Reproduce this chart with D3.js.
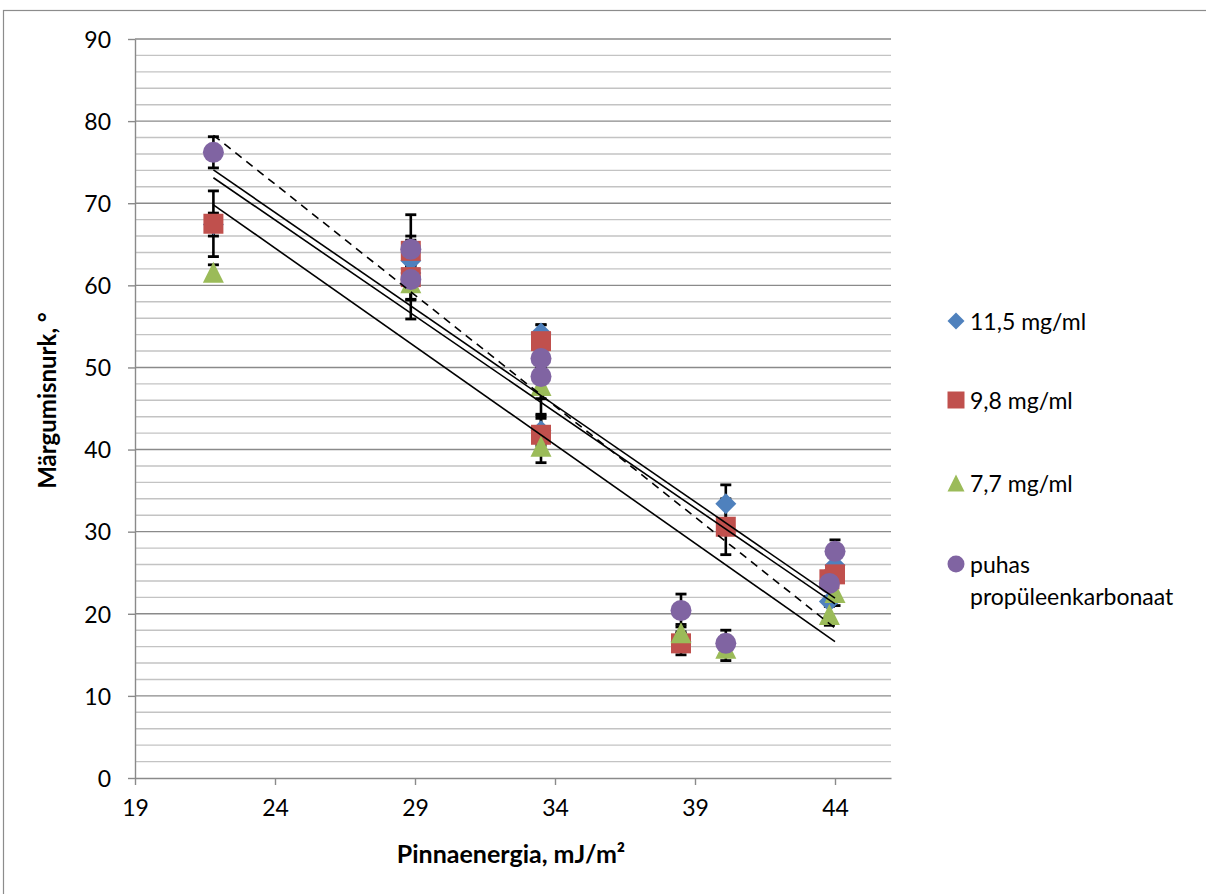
<!DOCTYPE html>
<html><head><meta charset="utf-8">
<script src="https://cdn.jsdelivr.net/npm/d3@7"></script>
<style>body{margin:0;background:#fff;} svg{display:block;font-family:Lato,"Open Sans",sans-serif;}</style>
</head><body>
<svg id="c" width="1206" height="894"></svg>
<script>
// ---- data ----
const xTicks = [19, 24, 29, 34, 39, 44];
const yTicks = [0, 10, 20, 30, 40, 50, 60, 70, 80, 90];
const yMinorTicks = d3.range(0, 91, 2);
const xTitle = "Pinnaenergia, mJ/m²";
const yTitle = "Märgumisnurk, °";
const seriesNames = ["11,5 mg/ml", "9,8 mg/ml", "7,7 mg/ml", "puhas propüleenkarbonaat"];

const surfaceEnergy = [21.8, 28.85, 28.85, 33.5, 33.5, 38.5, 40.1, 43.8, 44.0];

const blueY   = [67.4, 63.0, 61.5, 54.2, 42.3, 16.6, 33.4, 21.5, 25.9];
const blueErr = [1.4, 1.0, 1.0, 1.0, 1.8, 1.0, 2.3, 0.6, 1.2];
const redY    = [67.5, 64.2, 61.0, 53.2, 41.8, 16.4, 30.6, 24.2, 24.8];
const redErr  = [4.0, 1.8, 2.8, 2.0, 2.0, 1.4, 3.4, 1.0, 1.0];
const greenY  = [61.6, null, 60.3, 47.8, 40.4, 17.7, 15.8, 19.9, 22.6];
const greenErr= [0.9, null, 2.0, 3.5, 2.0, 1.0, 1.5, 1.3, 1.6];
const purpleY = [76.2, 64.4, 60.7, 51.1, 48.9, 20.4, 16.4, 23.7, 27.6];
const purpleErr=[1.9, 4.2, 4.8, 1.0, 2.7, 2.0, 1.6, 0.8, 1.4];

// linear trendlines y = a + b*x
const trendIntercept = [125.26, 124.07, 122.04, 137.2];
const trendSlope     = [-2.349, -2.338, -2.396, -2.703];
const trendDashed    = [false, false, false, true];

const colors = ["#4F81BD", "#C0504D", "#9BBB59", "#8064A2"];
const shapes = ["diamond", "square", "triangle", "circle"];

const seriesY = [blueY, redY, greenY, purpleY];
const seriesErr = [blueErr, redErr, greenErr, purpleErr];
const series = seriesNames.map((name, i) => ({
  name, color: colors[i], shape: shapes[i],
  a: trendIntercept[i], b: trendSlope[i], dashed: trendDashed[i],
  points: surfaceEnergy.map((x, j) => ({x, y: seriesY[i][j], e: seriesErr[i][j]}))
    .filter(p => p.y !== null)
}));

// ---- layout ----
const svg = d3.select("#c");
const L = 135, R = 891, T = 39, B = 778;
const x = d3.scaleLinear().domain([19, 46]).range([L, R]);
const y = d3.scaleLinear().domain([0, 90]).range([B, T]);

// chart border
svg.append("rect").attr("x", 3.5).attr("y", 10.5).attr("width", 1300).attr("height", 1000)
  .attr("fill", "none").attr("stroke", "#8c8c8c").attr("stroke-width", 1.2);

// gridlines
svg.append("g").selectAll("line").data(yMinorTicks.filter(v => v % 10 !== 0)).join("line")
  .attr("x1", L).attr("x2", R).attr("y1", d => y(d)).attr("y2", d => y(d))
  .attr("stroke", "#c3c3c3").attr("stroke-width", 1.4);
svg.append("g").selectAll("line").data(yTicks.filter(v => v !== 0)).join("line")
  .attr("x1", L).attr("x2", R).attr("y1", d => y(d)).attr("y2", d => y(d))
  .attr("stroke", "#8a8a8a").attr("stroke-width", 1.4);

// axes
const xAxis = svg.append("g").attr("transform", `translate(0,${B})`)
  .call(d3.axisBottom(x).tickValues(xTicks).tickSize(7).tickPadding(15).tickSizeOuter(0));
const yAxis = svg.append("g").attr("transform", `translate(${L},0)`)
  .call(d3.axisLeft(y).tickValues(yTicks).tickSize(7).tickPadding(17).tickSizeOuter(0));
[xAxis, yAxis].forEach(g => {
  g.select(".domain").attr("stroke", "#8a8a8a").attr("stroke-width", 1.4);
  g.selectAll(".tick line").attr("stroke", "#8a8a8a").attr("stroke-width", 1.4);
  g.selectAll(".tick text").attr("fill", "#000").style("font-size", "23px").style("font-family", "Lato");
});
yAxis.selectAll(".tick text").attr("dy", "0.36em");

// axis titles
svg.append("text").attr("x", (L + R) / 2 - 2).attr("y", 863).attr("text-anchor", "middle")
  .style("font-size", "25px").style("font-weight", "bold").text(xTitle);
svg.append("text").attr("transform", `translate(56,${(T + B) / 2 - 8}) rotate(-90)`)
  .attr("text-anchor", "middle").style("font-size", "24px").style("font-weight", "bold").text(yTitle);

// marker path generator
function markerPath(shape, s) {
  const h = s / 2;
  if (shape === "diamond") return `M0,${-h}L${h},0L0,${h}L${-h},0Z`;
  if (shape === "square") return `M${-h},${-h}H${h}V${h}H${-h}Z`;
  if (shape === "triangle") return `M0,${-h}L${h},${h}L${-h},${h}Z`;
  return `M${-h},0A${h},${h} 0 1,0 ${h},0A${h},${h} 0 1,0 ${-h},0Z`;
}
const markerSize = {diamond: 21, square: 20, triangle: 21, circle: 21};

// error bars (under markers)
const eb = svg.append("g");
series.forEach(s => {
  s.points.forEach(p => {
    const cx = x(p.x);
    eb.append("line").attr("x1", cx).attr("x2", cx).attr("y1", y(p.y + p.e)).attr("y2", y(p.y - p.e))
      .attr("stroke", "#000").attr("stroke-width", 2.6);
    [p.y + p.e, p.y - p.e].forEach(v => {
      eb.append("line").attr("x1", cx - 5.5).attr("x2", cx + 5.5).attr("y1", y(v)).attr("y2", y(v))
        .attr("stroke", "#000").attr("stroke-width", 2.8);
    });
  });
});

// markers
series.forEach(s => {
  svg.append("g").selectAll("path").data(s.points).join("path")
    .attr("transform", d => `translate(${x(d.x)},${y(d.y)})`)
    .attr("d", markerPath(s.shape, markerSize[s.shape]))
    .attr("fill", s.color);
});

// trendlines (on top)
series.forEach(s => {
  const [x0, x1] = d3.extent(s.points, d => d.x);
  svg.append("line")
    .attr("x1", x(x0)).attr("y1", y(s.a + s.b * x0))
    .attr("x2", x(x1)).attr("y2", y(s.a + s.b * x1))
    .attr("stroke", "#000").attr("stroke-width", 1.6)
    .attr("stroke-dasharray", s.dashed ? "8,6" : null);
});

// legend
const legendY = [321, 400, 483, 564];
const lg = svg.append("g");
series.forEach((s, i) => {
  lg.append("path").attr("transform", `translate(956,${legendY[i]})`)
    .attr("d", markerPath(s.shape, 17)).attr("fill", s.color);
  const words = s.name === "puhas propüleenkarbonaat" ? ["puhas", "propüleenkarbonaat"] : [s.name];
  words.forEach((w, k) => {
    lg.append("text").attr("x", 970).attr("y", legendY[i] + 8.5 + k * 32)
      .style("font-size", "23px").text(w);
  });
});
</script>
</body></html>
